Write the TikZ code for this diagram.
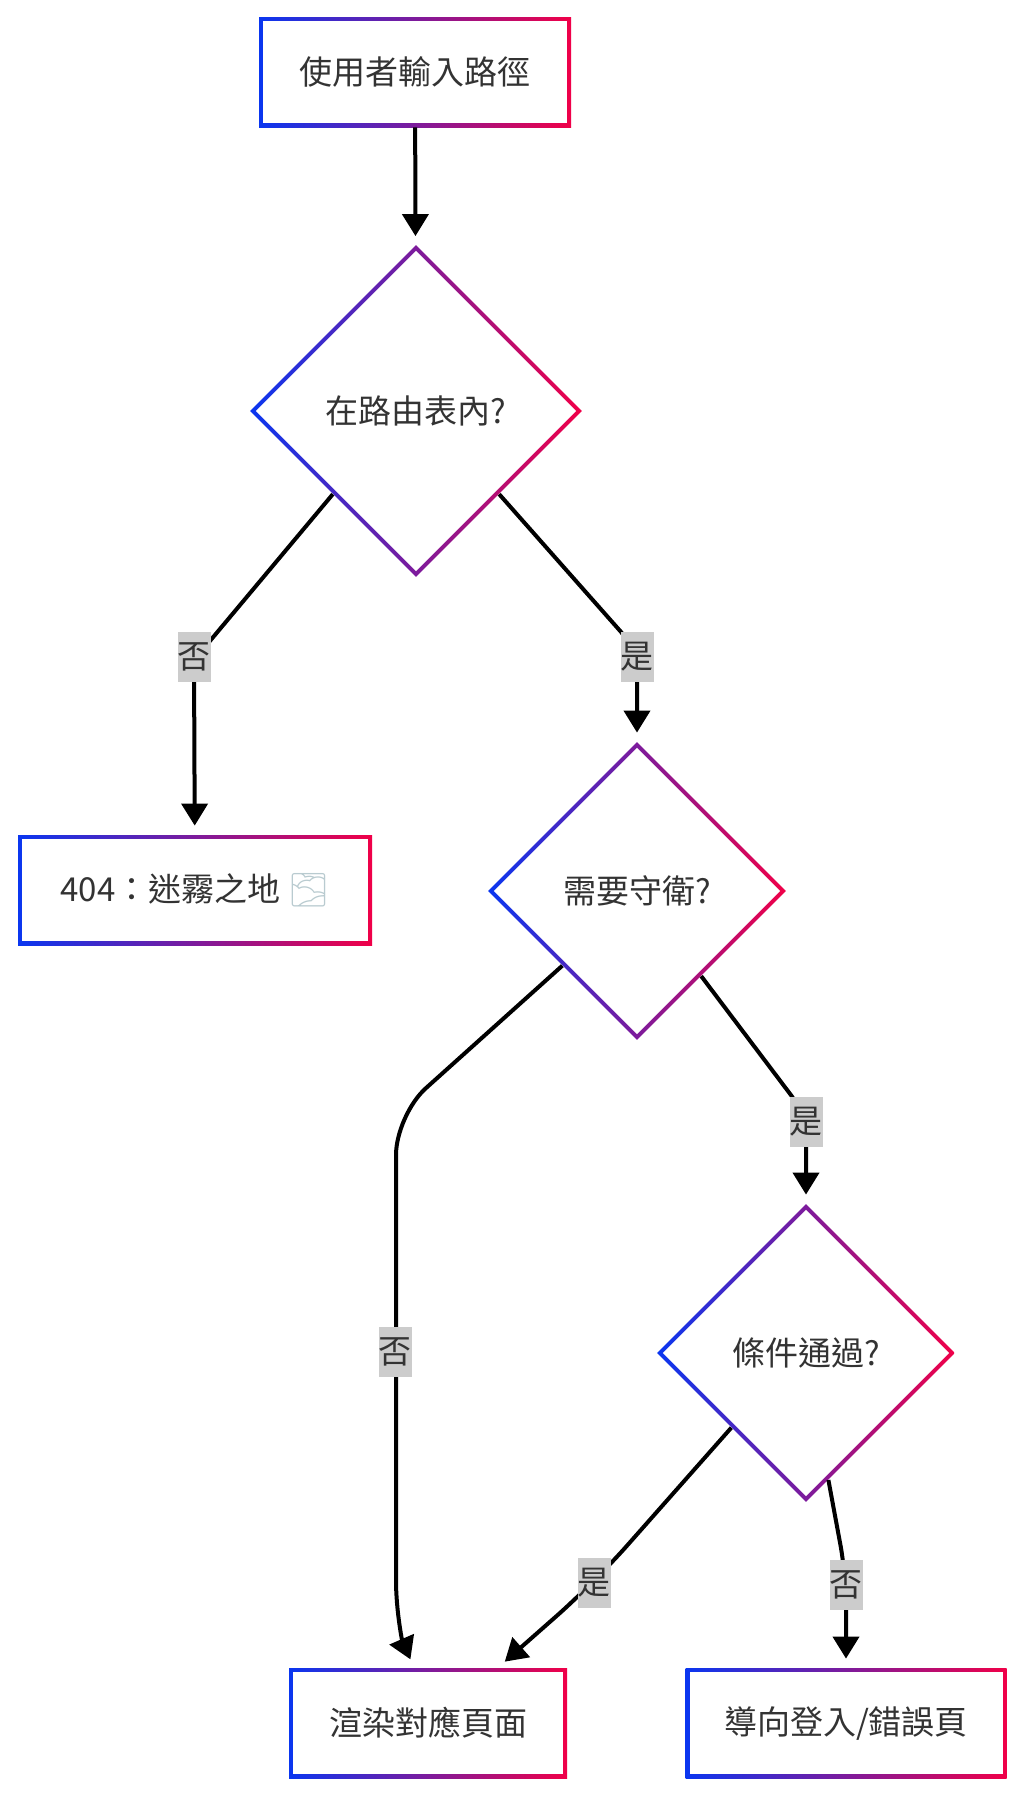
\documentclass[tikz,border=0pt]{standalone}
\usepackage{fontspec}
\setmainfont{Noto Sans CJK TC}
\newfontfamily\emojifont{Noto Emoji}
\usetikzlibrary{arrows.meta,shapes.geometric,calc}
\definecolor{edgeblue}{HTML}{0A36F0}
\definecolor{edgered}{HTML}{F00048}
\definecolor{inkgray}{HTML}{333333}
\definecolor{labelgray}{HTML}{CCCCCC}
\definecolor{fogblue}{HTML}{B9CBD0}
\tikzset{
  stepbox/.style={rectangle,minimum height=55pt,inner sep=0pt,text=inkgray,
    font=\fontsize{16.5pt}{19pt}\selectfont,
    path picture={
      \shade[left color=edgeblue,right color=edgered]
        (path picture bounding box.south west) rectangle (path picture bounding box.north east);
      \fill[white] ([shift={(2pt,2pt)}]path picture bounding box.south west)
        rectangle ([shift={(-2pt,-2pt)}]path picture bounding box.north east);
    }},
  decision/.style={diamond,aspect=1,inner sep=0pt,text=inkgray,
    font=\fontsize{16.5pt}{19pt}\selectfont,
    path picture={
      \shade[left color=edgeblue,right color=edgered]
        (path picture bounding box.south west) rectangle (path picture bounding box.north east);
      \fill[white] ([yshift=-2.83pt]path picture bounding box.north)
        -- ([xshift=-2.83pt]path picture bounding box.east)
        -- ([yshift=2.83pt]path picture bounding box.south)
        -- ([xshift=2.83pt]path picture bounding box.west) -- cycle;
    }},
  flow/.style={-{Triangle[length=11pt,width=13pt]},line width=2pt,shorten >=4.5pt},
  answer/.style={fill=labelgray,text=inkgray,inner sep=0pt,minimum width=16.5pt,
    minimum height=25pt,font=\fontsize{16.5pt}{19pt}\selectfont}
}

\begin{document}
\begin{tikzpicture}[x=0.5pt,y=-0.5pt]
  \useasboundingbox (0,0) rectangle (1024,1800);
  % nodes
  \node[stepbox,minimum width=156pt] (start) at (415,72) {使用者輸入路徑};
  \node[decision,minimum width=166pt,minimum height=166pt] (check1) at (416,411) {在路由表內?};
  \node[stepbox,minimum width=177pt] (lost) at (195,890) {404：迷霧之地 {\emojifont\color{fogblue}🌫}};
  \node[decision,minimum width=149pt,minimum height=149pt] (check2) at (637,891) {需要守衛?};
  \node[decision,minimum width=149pt,minimum height=149pt] (check3) at (806,1353) {條件通過?};
  \node[stepbox,minimum width=139pt] (render) at (428,1723) {渲染對應頁面};
  \node[stepbox,minimum width=160.5pt] (redirect) at (846,1723) {導向登入/錯誤頁};
  \coordinate (renderleft) at ([xshift=-7pt]render.north);
  \coordinate (renderright) at ([xshift=35pt]render.north);
  \coordinate (check2foot) at ($(check2.south)!0.43!(check2.east)$);
  \coordinate (check3foot) at ($(check3.south)!0.15!(check3.east)$);
  % edges
  \draw[flow] (start) -- (check1);
  \draw[flow,rounded corners=12pt] (check1.south west) -- (194,660) -- (lost);
  \draw[flow,rounded corners=12pt] (check1.south east) -- (637,650) -- (check2);
  \draw[flow,rounded corners=20pt] (check2.south west) -- (396,1115) -- (396,1540)
    .. controls (396,1610) and (402,1640) .. (renderleft);
  \draw[flow,rounded corners=12pt] (check2foot) -- (806,1115) -- (check3);
  \draw[flow,rounded corners=25pt] (check3.south west) -- (594,1583) -- (renderright);
  \draw[flow,rounded corners=15pt] (check3foot) -- (846,1575) -- (redirect);
  % labels
  \node[answer] (nolost) at (194,657) {否};
  \node[answer] (yesroute) at (637,657) {是};
  \node[answer] (noguard) at (395,1352) {否};
  \node[answer] (yesguard) at (806,1122) {是};
  \node[answer] (yespass) at (594,1583) {是};
  \node[answer] (nopass) at (846,1585) {否};
\end{tikzpicture}
\end{document}
